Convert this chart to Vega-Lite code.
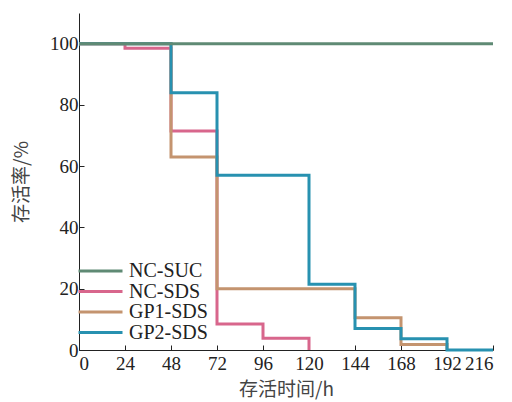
{
  "$schema": "https://vega.github.io/schema/vega-lite/v6.json",
  "autosize": "none",
  "width": 414,
  "height": 337,
  "padding": {"left": 79, "top": 13, "right": 19, "bottom": 52},
  "background": "white",
  "data": {
    "values": [
      {"group": "NC-SDS", "t": 0, "s": 100},
      {"group": "NC-SDS", "t": 24, "s": 98.5},
      {"group": "NC-SDS", "t": 48, "s": 71.5},
      {"group": "NC-SDS", "t": 72, "s": 8.5},
      {"group": "NC-SDS", "t": 96, "s": 3.8},
      {"group": "NC-SDS", "t": 120, "s": 0},
      {"group": "GP1-SDS", "t": 0, "s": 100},
      {"group": "GP1-SDS", "t": 48, "s": 63},
      {"group": "GP1-SDS", "t": 72, "s": 20},
      {"group": "GP1-SDS", "t": 144, "s": 10.5},
      {"group": "GP1-SDS", "t": 168, "s": 1.8},
      {"group": "GP1-SDS", "t": 192, "s": 0},
      {"group": "GP2-SDS", "t": 0, "s": 100},
      {"group": "GP2-SDS", "t": 48, "s": 84},
      {"group": "GP2-SDS", "t": 72, "s": 57},
      {"group": "GP2-SDS", "t": 120, "s": 21.5},
      {"group": "GP2-SDS", "t": 144, "s": 7},
      {"group": "GP2-SDS", "t": 168, "s": 3.7},
      {"group": "GP2-SDS", "t": 192, "s": 0},
      {"group": "GP2-SDS", "t": 216, "s": 0},
      {"group": "NC-SUC", "t": 0, "s": 100},
      {"group": "NC-SUC", "t": 216, "s": 100}
    ]
  },
  "mark": {"type": "line", "interpolate": "step-after", "strokeWidth": 3, "clip": false},
  "encoding": {
    "x": {
      "field": "t", "type": "quantitative",
      "scale": {"domain": [0, 216], "nice": false, "zero": false},
      "axis": {"values": [0, 24, 48, 72, 96, 120, 144, 168, 192, 216], "title": "存活时间/h", "labelPadding": 9, "titlePadding": 7}
    },
    "y": {
      "field": "s", "type": "quantitative",
      "scale": {"domain": [0, 110], "nice": false},
      "axis": {"values": [0, 20, 40, 60, 80, 100], "title": "存活率/%", "labelPadding": 6, "titlePadding": 18}
    },
    "color": {
      "field": "group", "type": "nominal",
      "scale": {"domain": ["NC-SUC", "NC-SDS", "GP1-SDS", "GP2-SDS"], "range": ["#5f8a74", "#d8668c", "#c4946f", "#2791b0"]},
      "legend": {
        "title": null, "orient": "none", "legendX": -2, "legendY": 248, "padding": 0,
        "symbolType": "stroke", "symbolSize": 1936, "symbolStrokeWidth": 3,
        "clipHeight": 20,
        "labelFont": "Liberation Serif", "labelFontSize": 20, "labelColor": "#222",
        "rowPadding": 0.5, "labelOffset": 5
      }
    }
  },
  "config": {
    "view": {"stroke": null},
    "axis": {
      "grid": false, "domainColor": "#222", "domainWidth": 1, "tickColor": "#222", "tickSize": -5,
      "labelFont": "Liberation Serif", "labelFontSize": 19, "labelColor": "#222",
      "titleFont": "Noto Sans CJK SC", "titleFontSize": 19, "titleFontWeight": "normal", "titleColor": "#444"
    }
  }
}
